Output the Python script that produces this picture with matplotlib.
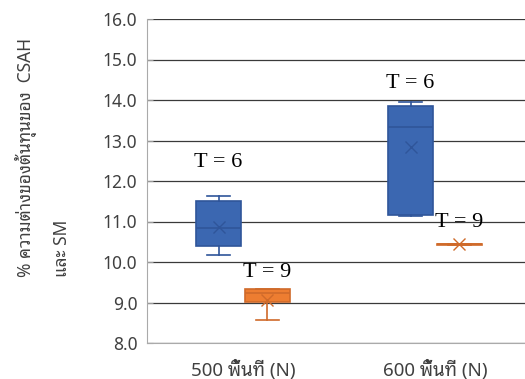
import matplotlib
matplotlib.use('Agg')
import matplotlib.pyplot as plt

# ===== Data =====
groups = ['500 พื้นที่ (N)', '600 พื้นที่ (N)']
series_labels = ['T = 6', 'T = 9']

t6_min = [10.17, 11.14]
t6_q1 = [10.39, 11.15]
t6_med = [10.83, 13.33]
t6_q3 = [11.51, 13.86]
t6_max = [11.62, 13.94]
t6_mean = [10.87, 12.84]

t9_min = [8.57, 10.43]
t9_q1 = [9.01, 10.43]
t9_med = [9.24, 10.44]
t9_q3 = [9.33, 10.45]
t9_max = [9.33, 10.45]
t9_mean = [9.06, 10.44]

y_ticks = [8.0, 9.0, 10.0, 11.0, 12.0, 13.0, 14.0, 15.0, 16.0]

plt.rcParams['font.family'] = ['Noto Sans Thai Looped', 'Noto Sans Thai', 'DejaVu Sans']

fig = plt.figure(figsize=(5.25, 3.79), dpi=100)
ax = fig.add_axes([147 / 525, 1 - 343 / 379, 1 - 147 / 525, (343 - 19) / 379])


def stats(lo, q1, med, q3, hi, mean):
    return [dict(whislo=a, q1=b, med=c, q3=d, whishi=e, mean=m)
            for a, b, c, d, e, m in zip(lo, q1, med, q3, hi, mean)]


centers = [0.5, 1.5]
offset = 0.255
width = 0.235

styles = [
    ('#3B67B1', '#2F559A'),  # T = 6
    ('#ED7D31', '#CF6A2A'),  # T = 9
]
all_stats = [stats(t6_min, t6_q1, t6_med, t6_q3, t6_max, t6_mean),
             stats(t9_min, t9_q1, t9_med, t9_q3, t9_max, t9_mean)]

for k, (st, (fc, ec)) in enumerate(zip(all_stats, styles)):
    pos = [c - offset / 2 if k == 0 else c + offset / 2 for c in centers]
    ax.bxp(st, positions=pos, widths=width, showmeans=True, patch_artist=True,
           showfliers=False, manage_ticks=False,
           boxprops=dict(facecolor=fc, edgecolor=ec, linewidth=1.2),
           medianprops=dict(color=ec, linewidth=1.2),
           whiskerprops=dict(color=ec, linewidth=1.2),
           capprops=dict(color=ec, linewidth=1.2),
           capwidths=width * 0.5,
           meanprops=dict(marker='x', markeredgecolor=ec, markersize=8, markeredgewidth=1.0),
           zorder=3)

# T labels placed by hand like in the original
label_x = [[c - offset / 2 for c in centers], [c + offset / 2 for c in centers]]
label_y = [[12.45, 14.4], [9.75, 10.97]]
for k, name in enumerate(series_labels):
    for x, y in zip(label_x[k], label_y[k]):
        ax.text(x, y, name, ha='center', va='center', fontsize=16,
                family='Liberation Serif', zorder=4)

ax.set_ylim(8.0, 16.0)
ax.set_xlim(0, (525 - 147) / 192)
ax.set_yticks(y_ticks)
ax.set_yticklabels([f'{v:.1f}' for v in y_ticks], fontsize=12.5, color='#404040')
ax.set_xticks(centers)
ax.set_xticklabels(groups, fontsize=13.5, color='#404040')
ax.tick_params(axis='x', length=0, pad=12)
ax.tick_params(axis='y', length=4, direction='in', color='#999999', pad=7)
ax.grid(axis='y', color='#3a3a3a', linewidth=0.9, zorder=0)
for s in ['top', 'right']:
    ax.spines[s].set_visible(False)
ax.spines['left'].set_color('#aaaaaa')
ax.spines['bottom'].set_color('#aaaaaa')

fig.text(43 / 525, 1 - 277 / 379, '% ความต่างของต้นทุนของ  CSAH\nและ SM',
         rotation=90, ha='center', va='bottom', multialignment='left',
         linespacing=2.2, fontsize=12.5, color='#404040')

fig.savefig('out.png', dpi=100)
